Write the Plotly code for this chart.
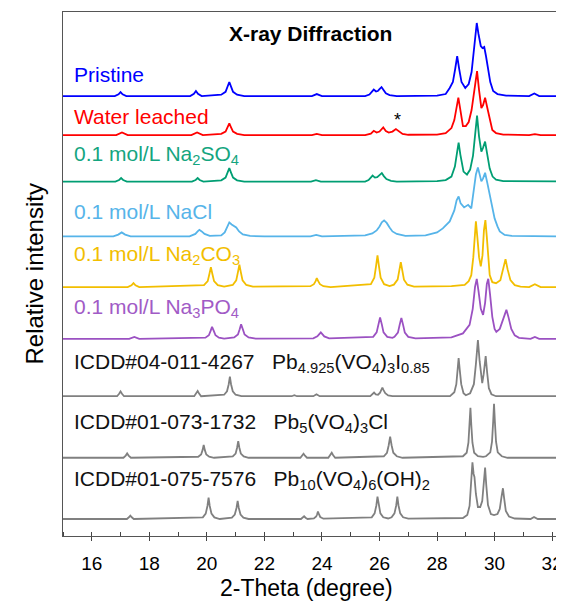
import plotly.graph_objects as go

# (2-theta, relative intensity above each trace's own baseline)
pristine = [(15.0,0),(16.8,0),(16.93,1.8),(17.0,4),(17.07,1.8),(17.2,0),(19.42,0),(19.55,2.2),(19.62,5),(19.69,2.2),(19.82,0),
            (20.5,1.4),(20.65,4.2),(20.72,9.4),(20.78,14),(20.84,9.4),(20.91,4.2),(21.05,1.4),(21.3,0),(23.65,0),(23.82,2),(24.0,0),
            (25.5,0),(25.65,1.5),(25.73,4),(25.8,6.5),(25.88,4.5),(25.94,5),(26.0,7),(26.07,9),(26.14,6),(26.22,2.7),(26.35,1),(26.6,0),
            (28.0,0.5),(28.3,2),(28.44,8),(28.55,14),(28.63,27),(28.7,40),(28.77,27),(28.85,14),(28.98,8),(29.1,12),(29.2,24),(29.28,48),
            (29.33,65),(29.38,73),(29.44,62),(29.52,50),(29.58,48),(29.64,49),(29.7,40),(29.77,28),(29.85,14),(29.95,5),(30.1,2),(30.4,0.5),
            (31.2,0),(31.38,2.5),(31.55,0),(32.75,0)]
water = [(15.0,0),(16.85,0),(17.05,2.7),(17.25,0),(19.46,0),(19.66,2.7),(19.86,0),(20.5,1.2),(20.65,3.5),(20.72,7.8),(20.78,11.7),
         (20.84,7.8),(20.91,3.5),(21.05,1.2),(21.3,0),(23.65,0),(23.82,1.2),(24.0,0),(25.5,0),(25.7,1.5),(25.8,4.3),(25.9,2.5),(26.0,3.5),
         (26.13,7.7),(26.22,4),(26.32,2.5),(26.45,3.5),(26.57,6),(26.67,3.5),(26.8,1.2),(27.0,0.3),(28.0,0.5),(28.3,2),(28.5,7),(28.6,15),
         (28.68,28),(28.74,37.4),(28.8,27),(28.9,9),(29.0,9),(29.1,13),(29.2,25),(29.3,48),(29.39,64),(29.46,45),(29.54,27),(29.6,30),
         (29.67,37.4),(29.74,28),(29.83,15),(29.92,5),(30.05,2),(30.3,0.5),(31.2,0),(31.4,1),(31.6,0),(32.75,0)]
na2so4 = [(15.0,0),(16.82,0),(16.95,1.6),(17.02,3.5),(17.09,1.6),(17.22,0),(19.48,0),(19.61,1.6),(19.68,3.5),(19.75,1.6),(19.88,0),
          (20.5,1.3),(20.65,4),(20.72,9),(20.78,13.5),(20.84,9),(20.91,4),(21.05,1.3),(21.3,0),(23.62,0),(23.79,1.5),(23.96,0),(25.5,0),
          (25.62,1.5),(25.69,3.5),(25.76,6),(25.84,4),(25.92,4.5),(26.0,6.5),(26.08,8.5),(26.15,5.5),(26.24,2.5),(26.4,0.8),(26.6,0),
          (28.0,0.5),(28.3,1.5),(28.5,5),(28.62,15),(28.7,30),(28.75,39),(28.81,27),(28.92,10),(29.04,7),(29.15,12),(29.25,26),(29.32,50),
          (29.39,66),(29.46,45),(29.54,30),(29.6,34),(29.67,40),(29.74,28),(29.83,13),(29.93,5),(30.05,2),(30.3,0.5),(32.75,0)]
nacl = [(15.0,0),(16.75,0),(16.92,1.8),(17.04,4),(17.16,1.8),(17.35,0),(19.4,0),(19.6,2.5),(19.68,5),(19.74,6.6),(19.82,5),(19.92,2.5),
        (20.1,0.5),(20.5,1),(20.62,4),(20.7,10),(20.78,14),(20.86,12),(20.95,10.5),(21.02,9),(21.12,5),(21.25,2),(21.5,0.5),(22.0,0),
        (23.6,0),(23.8,1.5),(24.0,0),(25.5,1),(25.75,3),(25.9,6),(26.0,10),(26.08,14),(26.16,16),(26.25,13.5),(26.35,9),(26.45,5),
        (26.6,2.5),(26.9,0.5),(27.6,1),(28.0,4),(28.2,8),(28.44,15),(28.6,26),(28.68,36),(28.75,40),(28.82,33),(28.94,29),(29.08,31.6),
        (29.19,28),(29.28,45),(29.35,62),(29.42,69),(29.48,62),(29.54,55),(29.6,58),(29.67,63.6),(29.75,53),(29.83,41.6),(29.92,30),
        (30.0,18),(30.1,10),(30.18,5),(30.35,1.5),(30.6,0.5),(32.75,0)]
na2co3 = [(15.0,0),(17.25,0),(17.38,1.8),(17.45,4),(17.52,1.8),(17.65,0),(19.9,2),(20.03,6),(20.09,13.4),(20.14,20),(20.19,13.4),
          (20.25,6),(20.38,2),(20.6,0.5),(20.9,2.2),(21.02,6.8),(21.08,15),(21.13,22.5),(21.18,15),(21.24,6.8),(21.37,2.2),(21.6,0.5),
          (23.6,1),(23.72,3),(23.78,6),(23.82,9),(23.87,6),(23.93,3),(24.05,1),(24.3,0),(25.7,3),(25.82,9.5),(25.88,21),(25.93,31.7),
          (25.98,21),(26.04,9.5),(26.16,3),(26.35,1),(26.5,2.5),(26.63,7.5),(26.69,17),(26.74,25),(26.79,17),(26.85,7.5),(26.97,2.5),
          (27.2,0.5),(28.5,1),(28.96,2.3),(29.1,6),(29.19,12),(29.26,30),(29.31,55),(29.35,65.7),(29.4,50),(29.46,30),(29.52,20.7),
          (29.58,32),(29.63,57),(29.68,67),(29.73,50),(29.78,25),(29.83,12),(29.92,5),(30.05,4),(30.2,7),(30.3,18),(30.38,28),(30.45,18),
          (30.55,7),(30.7,2),(30.9,0.5),(31.2,0),(31.4,3),(31.6,0),(32.75,0)]
na3po4 = [(15.0,0),(17.3,0),(17.48,2),(17.65,0),(19.95,1.2),(20.07,3.6),(20.13,8),(20.18,12),(20.24,8),(20.3,3.6),(20.42,1.2),(20.6,0.3),
          (20.95,1.5),(21.08,4.4),(21.14,9.7),(21.19,14.5),(21.25,9.7),(21.31,4.4),(21.45,1.5),(21.7,0.3),(23.7,0.5),(23.84,2.5),(23.9,4.5),
          (23.96,6.5),(24.02,4.5),(24.08,2.5),(24.25,0.5),(25.78,2),(25.9,6.5),(25.96,14.5),(26.02,21.5),(26.08,14.5),(26.14,6.5),(26.27,2),
          (26.45,1),(26.52,2),(26.64,6.3),(26.7,14),(26.76,21),(26.82,14),(26.88,6.3),(27.0,2),(27.25,0.5),(28.5,1.5),(28.9,5.5),(29.13,14),
          (29.24,30),(29.32,52),(29.38,60),(29.44,48),(29.52,30),(29.6,24),(29.67,36),(29.73,55),(29.78,60),(29.84,45),(29.92,22),(30.0,10),
          (30.06,7),(30.18,10),(30.3,20),(30.41,29),(30.48,22),(30.58,10),(30.7,3.5),(30.85,1),(31.25,0),(31.4,2),(31.55,0),(32.75,0)]
icdd_i = [(15.0,0),(16.88,0),(16.95,2.4),(17.0,4.7),(17.05,2.4),(17.12,0),(19.56,0),(19.63,2.6),(19.68,5.3),(19.73,2.6),(19.8,0),
          (20.6,1.5),(20.7,5),(20.76,12),(20.8,19.7),(20.84,12),(20.9,5),(21.0,1.5),(21.2,0),(22.95,0),(23.04,1),(23.13,0),(23.7,0),
          (23.81,2),(23.92,0),(25.68,0),(25.76,1.8),(25.81,3.7),(25.87,1.8),(25.95,1.5),(26.02,3.5),(26.06,6),(26.1,8.7),(26.14,6),
          (26.2,3),(26.3,0.8),(26.45,0),(28.45,0),(28.6,4),(28.67,12),(28.72,26),(28.75,38),(28.79,26),(28.84,12),(28.92,3),(29.0,1),
          (29.15,3),(29.28,12),(29.35,32),(29.42,56),(29.48,35),(29.54,16),(29.57,13),(29.62,22),(29.69,40),(29.74,24),(29.8,8),
          (29.89,2),(30.05,0),(32.75,0)]
icdd_cl = [(15.0,0),(17.1,0),(17.18,2.2),(17.23,4.3),(17.28,2.2),(17.36,0),(19.7,1),(19.8,3.2),(19.85,7.6),(19.89,12.7),(19.93,7.6),
           (19.98,3.2),(20.08,1),(20.25,0),(20.9,1.3),(21.0,4.2),(21.05,10),(21.09,16.7),(21.13,10),(21.18,4.2),(21.28,1.3),(21.45,0),
           (23.25,0),(23.31,2),(23.36,4),(23.41,2),(23.48,0),(24.22,0),(24.29,2.5),(24.34,5),(24.39,2.5),(24.46,0),(26.15,1.5),(26.26,5),
           (26.32,12.5),(26.37,21),(26.42,12.5),(26.48,5),(26.6,1.5),(26.8,0),(28.9,1.5),(29.03,5),(29.09,15),(29.13,33),(29.16,50),
           (29.19,33),(29.23,15),(29.29,5),(29.42,1.5),(29.6,0.8),(29.7,1.5),(29.85,5.4),(29.91,16),(29.95,36),(29.98,54),(30.01,36),
           (30.05,16),(30.11,5.4),(30.25,1.5),(30.45,0),(32.75,0)]
icdd_oh = [(15.0,0),(17.22,0),(17.29,1.7),(17.34,3.4),(17.39,1.7),(17.46,0),(19.86,1.6),(19.96,5.4),(20.02,13),(20.06,21.4),(20.1,13),
           (20.16,5.4),(20.26,1.6),(20.45,0),(20.87,1.4),(20.97,4.5),(21.03,11),(21.07,18),(21.11,11),(21.17,4.5),(21.27,1.4),(21.45,0),
           (23.27,0),(23.33,1.3),(23.38,2.7),(23.43,1.3),(23.5,0),(23.72,0.5),(23.8,2.5),(23.83,4.5),(23.86,7.4),(23.9,4.5),(23.94,2),
           (24.05,0.3),(25.73,1.7),(25.83,5.6),(25.89,13.5),(25.93,22.4),(25.97,13.5),(26.03,5.6),(26.13,1.7),(26.3,0.5),(26.42,1.7),
           (26.52,5.6),(26.58,13.5),(26.62,22.4),(26.66,13.5),(26.72,5.6),(26.82,1.7),(27.0,0.3),(28.9,1),(29.05,4),(29.13,13),(29.19,35),
           (29.23,56.7),(29.27,45),(29.3,42),(29.35,25),(29.42,12),(29.5,12),(29.57,18),(29.63,38),(29.67,51.4),(29.71,34),(29.77,14),
           (29.87,5),(29.98,4),(30.1,5),(30.18,10),(30.24,22),(30.29,30.7),(30.33,21),(30.39,8),(30.5,2.5),(30.7,0.5),(31.25,0),(31.37,2),
           (31.5,0),(32.75,0)]

labels = ["Pristine", "Water leached",
          "0.1 mol/L Na<sub>2</sub>SO<sub>4</sub>", "0.1 mol/L NaCl",
          "0.1 mol/L Na<sub>2</sub>CO<sub>3</sub>", "0.1 mol/L Na<sub>3</sub>PO<sub>4</sub>",
          "ICDD#04-011-4267\u00a0\u00a0\u00a0Pb<sub>4.925</sub>(VO<sub>4</sub>)<sub>3</sub>I<sub>0.85</sub>",
          "ICDD#01-073-1732\u00a0\u00a0\u00a0Pb<sub>5</sub>(VO<sub>4</sub>)<sub>3</sub>Cl",
          "ICDD#01-075-7576\u00a0\u00a0\u00a0Pb<sub>10</sub>(VO<sub>4</sub>)<sub>6</sub>(OH)<sub>2</sub>"]
series = [pristine, water, na2so4, nacl, na2co3, na3po4, icdd_i, icdd_cl, icdd_oh]

# layout / style (not data)
offsets = [439.7, 400.7, 354.2, 299.4, 248.7, 197.0, 139.7, 78.2, 17.0]
label_y = [461, 419.7, 380.5, 324.7, 281, 227.7, 172.7, 112.7, 56]
label_colors = ["#0000FF", "#FF0000", "#14A57F", "#56B4E9", "#F2BE00", "#A15BC6", "#111111", "#111111", "#111111"]
line_colors = ["#0000FF", "#FF0000", "#009E73", "#56B4E9", "#F2BE00", "#9B51C2", "#808080", "#808080", "#808080"]
FONT = "Arial, 'Liberation Sans', sans-serif"

fig = go.Figure()
for pts, off, col in zip(series, offsets, line_colors):
    xs = [p[0] for p in pts]
    ys = [off + p[1] for p in pts]
    fig.add_trace(go.Scatter(x=xs, y=ys, mode="lines", line=dict(color=col, width=1.8), showlegend=False,
                             hoverinfo="skip"))

ann = []
for txt, yy, col in zip(labels, label_y, label_colors):
    ann.append(dict(x=15.32, y=yy, xref="x", yref="y", text=txt, showarrow=False, xanchor="left", yanchor="middle",
                    font=dict(family=FONT, size=21, color=col)))
ann.append(dict(x=23.6, y=502.7, xref="x", yref="y", text="<b>X-ray Diffraction</b>", showarrow=False,
                xanchor="center", yanchor="middle", font=dict(family=FONT, size=21, color="black")))
ann.append(dict(x=26.63, y=415.5, xref="x", yref="y", text="*", showarrow=False,
                xanchor="center", yanchor="middle", font=dict(family=FONT, size=18, color="black")))
ann.append(dict(x=23.45, y=0, xref="x", yref="paper", yshift=-52, text="2-Theta (degree)", showarrow=False,
                xanchor="center", yanchor="middle", font=dict(family=FONT, size=23, color="black")))
ann.append(dict(x=0, y=0.5, xref="paper", yref="paper", xshift=-29.5, text="Relative intensity", showarrow=False,
                textangle=-90, xanchor="center", yanchor="middle", font=dict(family=FONT, size=24, color="black")))

fig.update_layout(
    width=564, height=602, margin=dict(l=54.5, r=0, t=4, b=74.3),
    paper_bgcolor="white", plot_bgcolor="white", annotations=ann,
    xaxis=dict(range=[15, 32.69], tickmode="linear", tick0=16, dtick=2, ticks="outside", ticklen=4, tickwidth=1,
               tickcolor="#444", showline=True, linecolor="#555", linewidth=1.2, mirror=True, showgrid=False,
               zeroline=False, automargin=False, ticklabelstandoff=6, tickfont=dict(family=FONT, size=19, color="black"),
               minor=dict(tick0=15, dtick=1, ticks="inside", ticklen=4, tickcolor="#444", showgrid=False)),
    yaxis=dict(range=[0, 523.7], showticklabels=False, ticks="", showline=True, linecolor="#555", linewidth=1.2,
               mirror=False, showgrid=False, zeroline=False, automargin=False),
)
fig.write_html("out.html")
